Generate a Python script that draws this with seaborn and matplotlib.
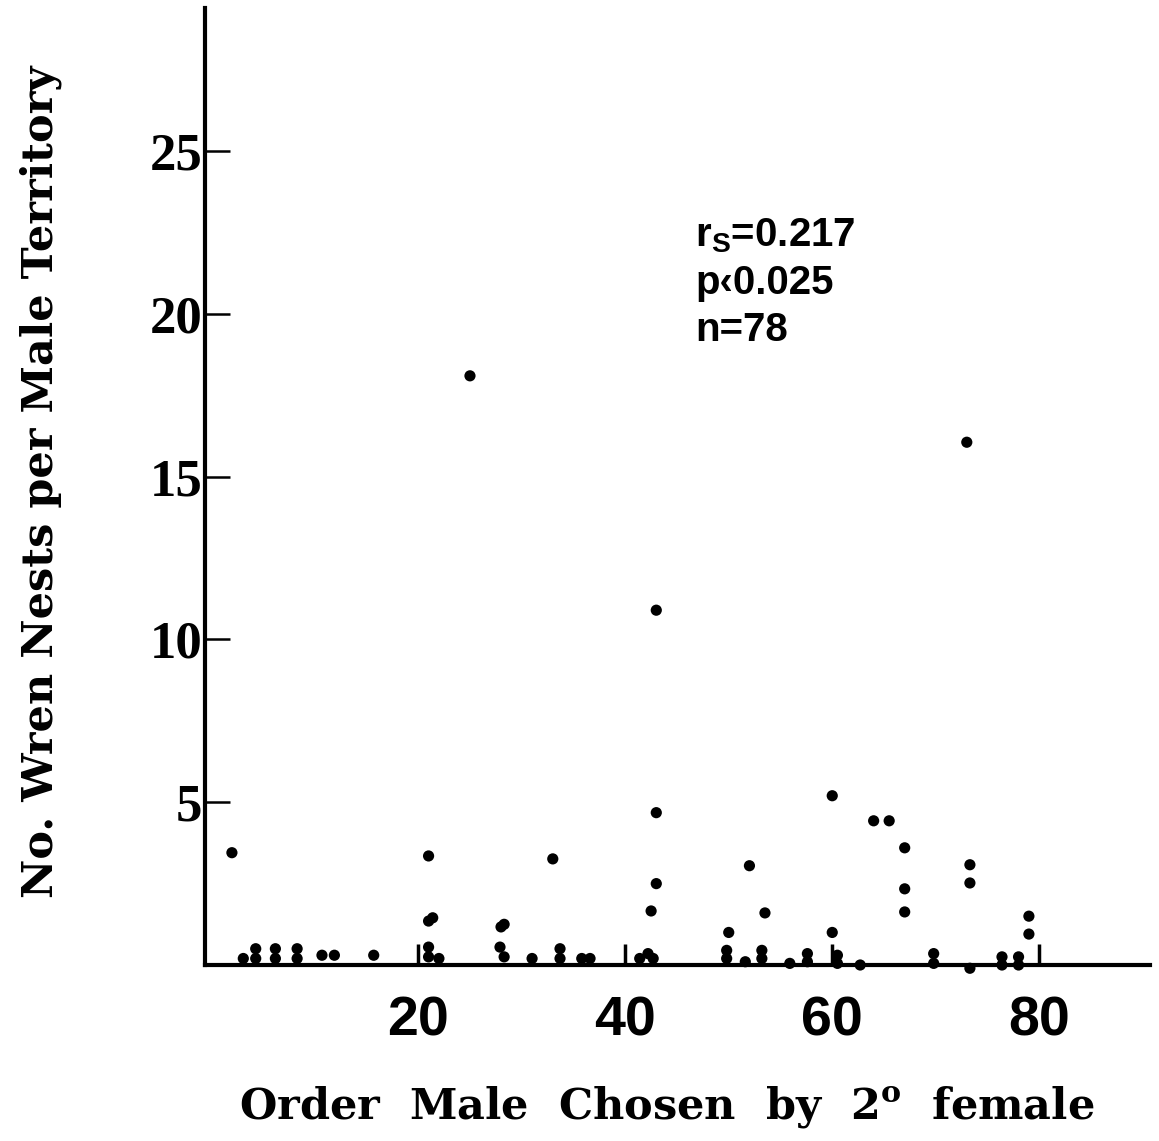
import matplotlib
matplotlib.use('Agg')
import matplotlib.pyplot as plt
import seaborn as sns
import pandas as pd

# points clearly above the axis
x_high = [2, 21, 21, 21.4, 25, 28, 28.3, 33, 43, 43, 43, 42.5, 50, 52, 53.5,
          60, 60, 64, 65.5, 67, 67, 67, 73, 73.3, 73.3, 79, 79]
y_high = [3.45, 3.35, 1.35, 1.45, 18.1, 1.17, 1.25, 3.26, 10.9, 4.68, 2.5, 1.66, 1.0, 3.05, 1.6,
          5.2, 1.0, 4.43, 4.43, 3.6, 2.34, 1.63, 16.06, 3.08, 2.52, 1.5, 0.95]

# points resting on the axis (zero / near zero), some stacked
x_low = [3.1, 4.3, 4.3, 6.2, 6.2, 8.3, 8.3, 10.7, 11.9, 15.7,
         21, 21, 22, 27.9, 28.3, 31, 33.7, 33.7, 35.8, 36.6,
         41.4, 42.2, 42.7, 49.8, 49.8, 51.6, 53.2, 53.2, 55.9,
         57.6, 57.6, 60.5, 60.5, 62.7, 69.8, 69.8, 73.3, 76.4, 76.4, 78, 78]
y_low = [0.2, 0.2, 0.5, 0.2, 0.5, 0.2, 0.5, 0.3, 0.3, 0.3,
         0.25, 0.55, 0.2, 0.55, 0.25, 0.2, 0.2, 0.5, 0.2, 0.2,
         0.2, 0.35, 0.2, 0.2, 0.45, 0.1, 0.2, 0.45, 0.05,
         0.1, 0.35, 0.05, 0.3, 0.0, 0.05, 0.35, -0.1, 0.0, 0.25, 0.0, 0.25]

x_ticks = [20, 40, 60, 80]
y_ticks = [5, 10, 15, 20, 25]

df = pd.DataFrame({'order': x_high + x_low, 'nests': y_high + y_low})

sns.set_style('ticks', {'axes.edgecolor': 'black', 'text.color': 'black',
                        'xtick.color': 'black', 'ytick.color': 'black',
                        'axes.labelcolor': 'black'})
plt.rcParams['mathtext.fontset'] = 'custom'
plt.rcParams['mathtext.rm'] = 'DejaVu Serif:bold'
plt.rcParams['mathtext.sf'] = 'Liberation Sans:bold'

fig = plt.figure(figsize=(11.59, 11.41), dpi=100)
ax = fig.add_axes([205 / 1159, (1141 - 965) / 1141, 945 / 1159, 957 / 1141])

sns.scatterplot(data=df, x='order', y='nests', color='black', s=65,
                edgecolor='none', ax=ax, clip_on=False)

ax.set_xlim(-0.6, 90.7)
ax.set_ylim(0, 29.4)
ax.set_xticks(x_ticks)
ax.set_yticks(y_ticks)
sns.despine(ax=ax)
for side in ['left', 'bottom']:
    ax.spines[side].set_linewidth(3)

ax.tick_params(axis='x', direction='in', length=15, width=2.5, pad=22)
ax.tick_params(axis='y', direction='in', length=18, width=1.8, pad=2)
for lab in ax.get_xticklabels():
    lab.set_fontfamily(['Liberation Sans', 'DejaVu Sans'])
    lab.set_fontweight('bold')
    lab.set_fontsize(40)
for lab in ax.get_yticklabels():
    lab.set_fontfamily(['Liberation Serif', 'DejaVu Serif'])
    lab.set_fontweight('bold')
    lab.set_fontsize(38)

ax.set_xlabel(r'Order  Male  Chosen  by  2$^{\mathrm{o}}$  female',
              fontfamily='DejaVu Serif', fontweight='bold', fontsize=31)
ax.xaxis.set_label_coords(0.489, -0.148)
ax.xaxis.label.set_va('center')
ax.set_ylabel('No. Wren Nests per Male Territory',
              fontfamily='DejaVu Serif', fontweight='bold', fontsize=31)
ax.yaxis.set_label_coords(-0.174, 0.505)
ax.yaxis.label.set_va('center')

ax.text(0.519, 0.782, 'r$_{\\mathsf{S}}$=0.217\np\u20390.025\nn=78', transform=ax.transAxes,
        fontfamily=['Liberation Sans', 'DejaVu Sans'], fontweight='bold',
        fontsize=29, va='top', ha='left', linespacing=1.3)

fig.savefig('out.png', dpi=100, facecolor='white')
